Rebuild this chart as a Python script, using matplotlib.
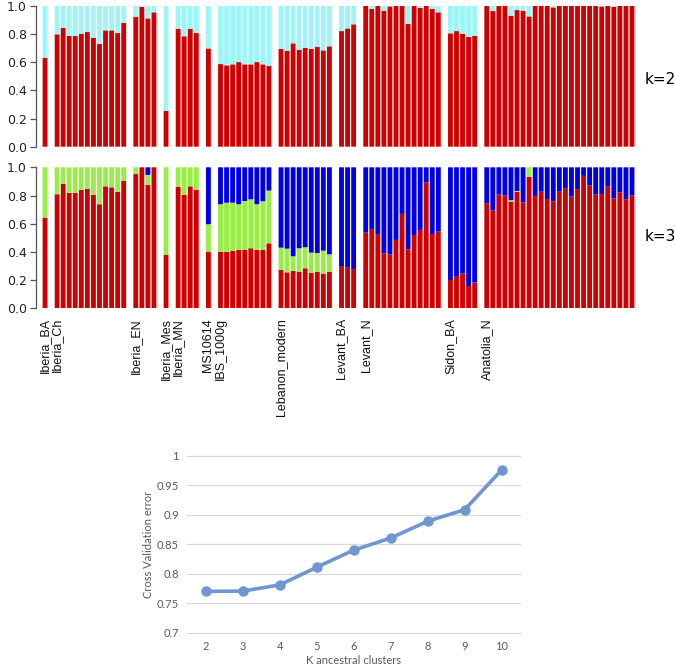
import matplotlib
matplotlib.use("Agg")
import matplotlib.pyplot as plt
import matplotlib.transforms as mtransforms
import numpy as np

# ---------------- data ----------------
groups = ["Iberia_BA", "Iberia_Ch", "Iberia_EN", "Iberia_Mes", "Iberia_MN", "MS10614",
          "IBS_1000g", "Lebanon_modern", "Levant_BA", "Levant_N", "Sidon_BA", "Anatolia_N"]

# K=2: share of ancestry component 1 (red); remainder is component 2 (cyan)
k2_red = [
    [0.631],
    [0.797, 0.842, 0.785, 0.785, 0.801, 0.813, 0.773, 0.728, 0.825, 0.825, 0.806, 0.879],
    [0.922, 0.991, 0.910, 0.953],
    [0.255],
    [0.837, 0.783, 0.837, 0.806],
    [0.697],
    [0.586, 0.577, 0.584, 0.600, 0.584, 0.584, 0.600, 0.584, 0.572],
    [0.693, 0.681, 0.733, 0.686, 0.700, 0.695, 0.707, 0.683, 0.712],
    [0.820, 0.839, 0.868],
    [1.0, 0.978, 1.0, 0.965, 0.995, 1.0, 1.0, 0.870, 1.0, 0.985, 1.0, 0.978, 0.953],
    [0.804, 0.820, 0.801, 0.778, 0.787],
    [1.0, 0.962, 1.0, 1.0, 0.929, 0.969, 0.965, 0.924, 1.0, 1.0, 1.0, 0.988, 1.0,
     1.0, 1.0, 1.0, 1.0, 1.0, 1.0, 0.995, 1.0, 0.993, 1.0, 1.0, 1.0],
]

# K=3: red and green components; remainder is the blue component
k3_red = [
    [0.643],
    [0.809, 0.882, 0.818, 0.818, 0.839, 0.846, 0.804, 0.738, 0.865, 0.858, 0.827, 0.905],
    [0.952, 1.0, 0.875, 1.0],
    [0.378],
    [0.863, 0.804, 0.865, 0.842],
    [0.402],
    [0.400, 0.400, 0.409, 0.414, 0.416, 0.426, 0.414, 0.414, 0.461],
    [0.272, 0.255, 0.265, 0.260, 0.284, 0.251, 0.258, 0.246, 0.258],
    [0.300, 0.288, 0.279],
    [0.537, 0.563, 0.527, 0.390, 0.383, 0.485, 0.669, 0.418, 0.520, 0.556, 0.894, 0.527, 0.544],
    [0.201, 0.229, 0.248, 0.158, 0.184],
    [0.745, 0.693, 0.806, 0.800, 0.757, 0.827, 0.750, 0.932, 0.797, 0.827, 0.775, 0.757, 0.827,
     0.849, 0.792, 0.846, 0.939, 0.870, 0.806, 0.811, 0.863, 0.778, 0.823, 0.773, 0.800],
]
k3_green = [
    [0.357],
    [0.191, 0.118, 0.182, 0.182, 0.161, 0.154, 0.196, 0.262, 0.135, 0.142, 0.173, 0.095],
    [0.048, 0.0, 0.071, 0.0],
    [0.622],
    [0.137, 0.196, 0.135, 0.158],
    [0.194],
    [0.338, 0.349, 0.340, 0.324, 0.345, 0.347, 0.324, 0.345, 0.374],
    [0.158, 0.168, 0.104, 0.166, 0.149, 0.144, 0.134, 0.163, 0.125],
    [0.0, 0.0, 0.0],
    [0.0] * 13,
    [0.0] * 5,
    [0.0, 0.0, 0.0, 0.0, 0.010, 0.005, 0.0, 0.068, 0.0, 0.0, 0.0, 0.0, 0.0,
     0.0, 0.0, 0.0, 0.0, 0.0, 0.0, 0.0, 0.0, 0.0, 0.0, 0.0, 0.0],
]

# cross-validation error
cv_k = [2, 3, 4, 5, 6, 7, 8, 9, 10]
cv_err = [0.770, 0.7705, 0.781, 0.811, 0.840, 0.8605, 0.889, 0.9085, 0.976]

# ---------------- styling ----------------
RED = "#D00000"
CYAN = "#9EF5F7"
GREEN = "#98EE44"
BLUE = "#0000E6"

W, H = 675, 669
fig = plt.figure(figsize=(W / 100, H / 100), dpi=100)

def fx(px):
    return px / W

def fy(py):
    return 1 - py / H

# bar slot positions: one empty slot between groups
positions = []
starts = []
pos = 0
for g, vals in zip(groups, k2_red):
    starts.append(pos)
    positions.append(np.arange(pos, pos + len(vals)))
    pos += len(vals) + 1
nslots = pos - 1

slot_px = (635 - 42) / nslots
ax_left_px = 36
ax_right_px = 640
xlim = (-(42 - ax_left_px) / slot_px - 0.5, nslots - 0.5 + (ax_right_px - 635) / slot_px)

def setup_bar_axes(ax):
    ax.set_xlim(*xlim)
    ax.set_ylim(0, 1)
    for s in ["top", "right", "bottom"]:
        ax.spines[s].set_visible(False)
    ax.spines["left"].set_bounds(0, 1)
    ax.spines["left"].set_color("#555555")
    ax.spines["left"].set_linewidth(0.9)
    ax.set_xticks([])
    ax.set_yticks([0, 0.2, 0.4, 0.6, 0.8, 1.0])
    ax.set_yticklabels(["0.0", "0.2", "0.4", "0.6", "0.8", "1.0"])
    ax.tick_params(axis="y", length=4.5, width=0.9, color="#555555", pad=2,
                   labelsize=9, labelcolor="#222222")
    for lbl in ax.get_yticklabels():
        lbl.set_family("DejaVu Sans")

bw = 0.80

def draw_bar(ax, xs, h, bottom, color):
    bars = ax.bar(xs, h, bottom=bottom, width=bw, color=color, linewidth=0)
    for b in bars:
        b.set_snap(False)

# K=2 panel
ax2 = fig.add_axes([fx(ax_left_px), fy(146.7), fx(ax_right_px - ax_left_px), 141 / H])
setup_bar_axes(ax2)
for xs, red in zip(positions, k2_red):
    red = np.array(red)
    draw_bar(ax2, xs, red, 0, RED)
    draw_bar(ax2, xs, 1 - red, red, CYAN)

# K=3 panel
ax3 = fig.add_axes([fx(ax_left_px), fy(308.3), fx(ax_right_px - ax_left_px), 141 / H])
setup_bar_axes(ax3)
for xs, red, green in zip(positions, k3_red, k3_green):
    red = np.array(red)
    green = np.array(green)
    draw_bar(ax3, xs, red, 0, RED)
    draw_bar(ax3, xs, green, red, GREEN)
    draw_bar(ax3, xs, 1 - red - green, red + green, BLUE)

fig.text(fx(645), fy(80), "k=2", ha="left", va="center", fontsize=11, family="DejaVu Sans")
fig.text(fx(645), fy(236), "k=3", ha="left", va="center", fontsize=11, family="DejaVu Sans")

# group labels
trans = mtransforms.blended_transform_factory(ax3.transData, fig.transFigure)
for g, s in zip(groups, starts):
    ax3.text(s, fy(318), g, rotation=90, ha="center", va="top", transform=trans,
             fontsize=9, family="Liberation Sans", color="#111111")

# ---------------- CV error line chart ----------------
axl = fig.add_axes([fx(187.3), fy(632.7), fx(520.2 - 187.3), 177 / H])
LINE = "#7096D1"
TXT = "#595959"
axl.plot(cv_k, cv_err, color=LINE, linewidth=2.6, marker="o", markersize=6.5,
         solid_capstyle="round", zorder=3, clip_on=False)
axl.set_xlim(1.5, 10.5)
axl.set_ylim(0.7, 1.0)
yt = [0.7, 0.75, 0.8, 0.85, 0.9, 0.95, 1.0]
axl.set_yticks(yt)
axl.set_yticklabels(["0.7", "0.75", "0.8", "0.85", "0.9", "0.95", "1"])
axl.set_xticks(cv_k)
axl.set_xticklabels([str(k) for k in cv_k])
axl.grid(axis="y", color="#D9D9D9", linewidth=0.9, clip_on=False)
axl.set_axisbelow(True)
for s in axl.spines.values():
    s.set_visible(False)
axl.tick_params(axis="both", length=0, labelsize=8, labelcolor=TXT)
axl.tick_params(axis="y", pad=6)
axl.tick_params(axis="x", pad=6)
for lbl in axl.get_xticklabels() + axl.get_yticklabels():
    lbl.set_family("Lato")
axl.set_ylabel("Cross Validation error", fontsize=8, color=TXT, family="Lato", labelpad=2)
axl.set_xlabel("K ancestral clusters", fontsize=8, color=TXT, family="Lato", labelpad=2)

fig.savefig("out.png", dpi=100)
